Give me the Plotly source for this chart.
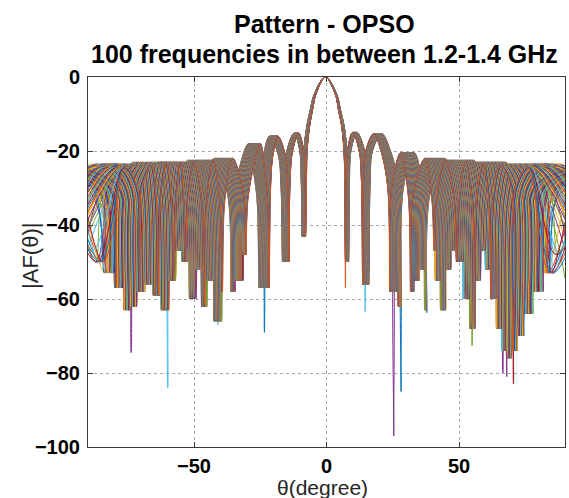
import numpy as np
import plotly.graph_objects as go

# ---------------- data ----------------
FREQS_GHZ = np.linspace(1.2, 1.4, 100)      # "100 frequencies in between 1.2-1.4 GHz"
F_REF_GHZ = 1.3                             # frequency at which the pattern nodes are read

# pattern nodes at the reference frequency (theta in degrees; |theta|>90 = invisible region)
THETA_REF_DEG = [
    -113.4, -111.1, -106.9, -101.5, -99.9, -98.3,
    -80.0, -76.0, -74.5, -73.0, -69.5, -66.7, -65.5, -64.3, -62.0,
    -60.5, -59.5, -58.5, -55.5, -52.2, -51.0, -49.8, -47.0,
    -44.1, -43.0, -41.9, -38.5, -34.0, -33.0, -32.0, -27.0,
    -25.2, -24.0, -23.4, -22.8, -21.8, -19.8, -16.8, -15.8, -15.3, -14.8, -13.8,
    -11.3, -9.3, -8.8, -8.5, -8.1, -7.9, -6.9, -5.7, -4.2, -0.4,
    3.5, 4.9, 6.2, 7.1, 7.4, 7.7, 8.0, 8.5, 10.6, 13.3, 14.2, 14.7, 15.2, 16.0,
    19.2, 22.2, 25.0, 25.8, 26.6, 30.3, 33.5, 34.5, 35.5, 40.5,
    43.5, 44.5, 45.5, 49.5, 53.3, 54.5, 55.7, 58.5, 61.8, 63.0, 64.2,
    67.5, 70.7, 72.0, 73.5, 79.0, 98.3, 99.9, 101.5, 106.9, 111.1, 113.4,
]
AF_REF_DB = [
    -32, -45, -24.5, -30, -48, -30,
    -24, -33, -48, -33, -23.5, -33, -52, -33, -23,
    -33, -55, -33, -23, -33, -55, -33, -22.5,
    -33, -60, -33, -22, -32, -55, -32, -18,
    -26, -34, -57, -30, -21, -16, -21, -30, -50, -28, -20,
    -15.2, -20, -28, -43, -26, -20, -13.5, -9, -4.5, 0,
    -4.5, -9, -13.5, -20, -28, -50, -28, -20, -15, -20, -28, -56, -28, -20,
    -15.3, -20, -30, -58, -30, -20.5, -32, -58, -32, -22,
    -33, -60, -33, -22.5, -33, -62, -33, -23, -33, -55, -33,
    -23.5, -33, -55, -33, -24, -30, -50, -30, -24.5, -45, -32,
]

# lower edge of the band of curves (null floor), read along theta
FLOOR_THETA_DEG = [-90, -86, -82, -78, -75, -73, -70, -67, -64, -61, -58, -56, -53,
                   -50.5, -48, -46.3, -44, -41, -38, -36, -33, -30, -27,
                   27, 30, 32, 34, 36, 38, 40, 42, 44, 46, 48, 50, 53, 55, 57,
                   59, 61, 63, 65, 67, 69, 71, 73, 76, 80, 84, 88, 90]
FLOOR_DB = [-47, -50, -53, -57, -63, -62, -58, -56, -59, -63, -55, -47, -50,
            -60, -52, -62, -55, -66, -58, -58, -55, -48, -50,
            -62, -60, -58, -55, -52, -63, -47, -55, -63, -52, -47, -50, -60, -68, -55,
            -47, -52, -60, -68, -74, -76, -74, -70, -64, -58, -53, -48, -47]

# isolated deepest spikes (theta in degrees, level in dB)
SPIKE_THETA_DEG = [25.4, 28.6, -23.4, 14.6, 6.9, -59.9, -73.7, 70.6, 66.5, 68.0, 55.0, 37.9, -41.0]
SPIKE_DB = [-97, -85, -69, -63.4, -57, -84, -74.5, -83, -80, -81, -72.7, -63.7, -67]

MATLAB_COLORS = ["#0072BD", "#D95319", "#EDB120", "#7E2F8E",
                 "#77AC30", "#4DBEEE", "#A2142F"]

# ---------------- build traces ----------------
theta_ref = np.array(THETA_REF_DEG, float)
af_ref = np.array(AF_REF_DB, float)
a = np.abs(theta_ref)
u_ref = np.sign(theta_ref) * np.where(
    a <= 90,
    np.sin(np.radians(np.minimum(a, 90))),
    1.0 / np.cos(np.radians(np.maximum(a - 90, 0))),
)


def to_theta(s):
    aa = np.abs(s)
    inside = np.degrees(np.arcsin(np.minimum(aa, 1)))
    outside = 90 + np.degrees(np.arccos(1 / np.maximum(aa, 1)))
    return np.sign(s) * np.where(aa <= 1, inside, outside)


null_idx = [i for i in range(1, len(af_ref) - 1)
            if af_ref[i] < af_ref[i - 1] and af_ref[i] < af_ref[i + 1]]

n_f = len(FREQS_GHZ)
depth = np.tile(af_ref, (n_f, 1))
thetas = np.array([to_theta(u_ref * F_REF_GHZ / f) for f in FREQS_GHZ])

# null floor: where a curve's null lands in the outer region, take the floor read there
floor_t = np.array(FLOOR_THETA_DEG, float)
floor_v = np.array(FLOOR_DB, float)
for k in range(n_f):
    for n in null_idx:
        t = thetas[k, n]
        if 27 <= abs(t) <= 90:
            j = int(np.argmin(np.abs(floor_t - t)))
            depth[k, n] = floor_v[j]

# isolated spikes: give them to the curve whose null lands there
for th, db in zip(SPIKE_THETA_DEG, SPIKE_DB):
    s = np.sin(np.radians(th))
    best = None
    for n in null_idx:
        if np.sign(u_ref[n]) != np.sign(s):
            continue
        f = F_REF_GHZ * u_ref[n] / s
        d = max(0.0, FREQS_GHZ[0] - f, f - FREQS_GHZ[-1])
        key = (d, abs(f - F_REF_GHZ))
        if best is None or key < best[0]:
            best = (key, n, f)
    _, n, f = best
    k = int(np.argmin(np.abs(FREQS_GHZ - f)))
    depth[k, n] = db

fig = go.Figure()
for k in range(n_f):
    th = thetas[k]
    inside = np.abs(th) <= 90
    mask = inside.copy()
    mask[1:] |= inside[:-1]
    mask[:-1] |= inside[1:]
    fig.add_trace(go.Scatter(
        x=th[mask], y=depth[k][mask], mode="lines",
        line=dict(color=MATLAB_COLORS[k % 7], width=1, shape="spline", smoothing=1.0),
        showlegend=False, hoverinfo="skip",
    ))

FONT = "Liberation Sans, Arial, Helvetica, sans-serif"
axis_common = dict(
    showgrid=True, gridcolor="#a8a8a8", griddash="dot", gridwidth=1,
    zeroline=False, showline=True, linecolor="#3a3a3a", linewidth=1,
    mirror="ticks", ticks="inside", ticklen=5, tickcolor="#3a3a3a",
    tickfont=dict(family=FONT, size=20, color="black", weight="bold"),
    automargin=False,
)

FIG_W, FIG_H = 569, 498
PL, PR, PT, PB = 88, 565, 77, 447       # plot area in window pixels
W, H = PR - PL, PB - PT


def px_x(x):
    return (x - PL) / W


def px_y(y):
    return (PB - y) / H


fig.update_layout(
    width=FIG_W, height=FIG_H,
    paper_bgcolor="white", plot_bgcolor="white",
    margin=dict(l=PL, r=FIG_W - PR, t=PT, b=FIG_H - PB, autoexpand=False),
    xaxis=dict(range=[-90, 90], tickvals=[-50, 0, 50], ticklabelstandoff=1, **axis_common),
    yaxis=dict(range=[-100, 0], tickvals=[-100, -80, -60, -40, -20, 0], ticklabelstandoff=3,
               **axis_common),
    annotations=[
        dict(text="<b>Pattern - OPSO</b>", x=px_x(324), y=px_y(24), xref="paper", yref="paper",
             xanchor="center", yanchor="middle", showarrow=False,
             font=dict(family=FONT, size=25, color="black")),
        dict(text="<b>100 frequencies in between 1.2-1.4 GHz</b>", x=px_x(324), y=px_y(54),
             xref="paper", yref="paper", xanchor="center", yanchor="middle", showarrow=False,
             font=dict(family=FONT, size=25, color="black")),
        dict(text="θ(degree)", x=px_x(322), y=px_y(487.5), xref="paper", yref="paper",
             xanchor="center", yanchor="middle", showarrow=False,
             font=dict(family=FONT, size=21, color="#262626")),
        dict(text="|AF(θ)|", x=px_x(30), y=px_y(256), xref="paper", yref="paper",
             xanchor="center", yanchor="middle", showarrow=False, textangle=-90,
             font=dict(family=FONT, size=22, color="#262626")),
    ],
)

# remove the page's default body margin so the figure fills the window exactly
fig.write_html("out.html",
               config={"displayModeBar": False},
               post_script="document.body.style.margin='0';document.body.style.overflow='hidden';")
